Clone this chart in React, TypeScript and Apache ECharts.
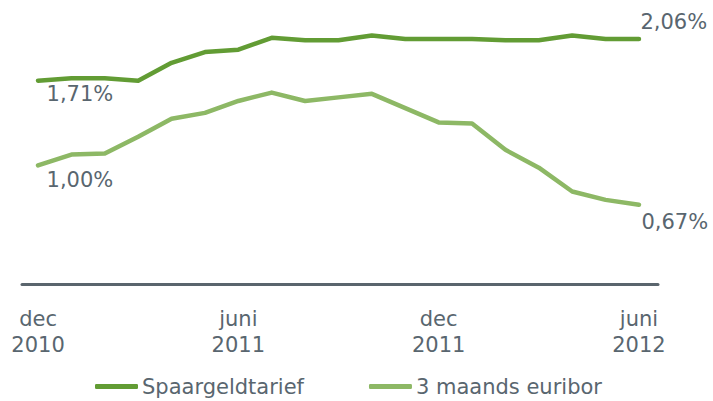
import React, { useEffect, useRef } from "react";
import * as echarts from "echarts";

const months = [
  "dec 2010", "jan 2011", "feb 2011", "mrt 2011", "apr 2011", "mei 2011", "juni 2011",
  "juli 2011", "aug 2011", "sep 2011", "okt 2011", "nov 2011", "dec 2011",
  "jan 2012", "feb 2012", "mrt 2012", "apr 2012", "mei 2012", "juni 2012",
];
const spaargeld = [1.71, 1.73, 1.73, 1.71, 1.86, 1.95, 1.97, 2.07, 2.05, 2.05, 2.09, 2.06, 2.06, 2.06, 2.05, 2.05, 2.09, 2.06, 2.06];
const euribor = [1.0, 1.09, 1.1, 1.24, 1.39, 1.44, 1.54, 1.61, 1.54, 1.57, 1.6, 1.48, 1.36, 1.35, 1.13, 0.98, 0.78, 0.71, 0.67];
const tickIndices = [0, 6, 12, 18];
const tickLabels = ["dec\n2010", "juni\n2011", "dec\n2011", "juni\n2012"];
const seriesNames = ["Spaargeldtarief", "3 maands euribor"];

const DARK = "#629c34";
const LIGHT = "#8db865";
const TEXT = "#59666f";
const FONT = "DejaVu Sans";

const fmt = (v: number) => v.toFixed(2).replace(".", ",") + "%";

function buildData(values: number[], labels: Record<number, number[]>) {
  return values.map((v, i) => {
    const pos = labels[i];
    if (!pos) return [i, v];
    return {
      value: [i, v],
      label: {
        show: true,
        position: pos,
        align: "left",
        verticalAlign: "middle",
        formatter: () => fmt(v),
        color: TEXT,
        fontFamily: FONT,
        fontSize: 21,
      },
    };
  });
}

export default function App() {
  const ref = useRef<HTMLDivElement>(null);
  useEffect(() => {
    if (!ref.current) return;
    const chart = echarts.init(ref.current, undefined, { renderer: "svg" });
    chart.setOption({
      animation: false,
      grid: { left: 22, right: 55, top: 22.3, bottom: 116.5, containLabel: false },
      legend: {
        left: 95,
        top: 376,
        padding: 0,
        itemWidth: 43,
        itemHeight: 5,
        itemGap: 65,
        icon: "roundRect",
        data: seriesNames,
        textStyle: { color: TEXT, fontFamily: FONT, fontSize: 21, padding: [0, 0, 0, -1] },
      },
      xAxis: {
        type: "value",
        min: -0.48,
        max: 18.57,
        splitLine: { show: false },
        axisTick: { show: false },
        axisLine: { show: true, onZero: true, lineStyle: { color: "#5a656d", width: 3, cap: "round" } },
        axisLabel: {
          customValues: tickIndices,
          formatter: (v: number) => tickLabels[tickIndices.indexOf(Math.round(v))] ?? "",
          color: TEXT,
          fontFamily: FONT,
          fontSize: 21,
          lineHeight: 26,
          margin: 21,
          showMinLabel: true,
          showMaxLabel: true,
        },
      },
      yAxis: {
        type: "value",
        min: 0,
        max: 2.2,
        show: false,
        splitLine: { show: false },
      },
      series: [
        {
          name: seriesNames[0],
          type: "line",
          data: buildData(spaargeld, { 0: [9, 14], 18: [2, -16] }),
          symbol: "circle",
          symbolSize: 1,
          showSymbol: true,
          itemStyle: { color: DARK },
          lineStyle: { color: DARK, width: 4.5, cap: "round", join: "round" },
          z: 3,
        },
        {
          name: seriesNames[1],
          type: "line",
          data: buildData(euribor, { 0: [9, 15], 18: [3, 18] }),
          symbol: "circle",
          symbolSize: 1,
          showSymbol: true,
          itemStyle: { color: LIGHT },
          lineStyle: { color: LIGHT, width: 4.5, cap: "round", join: "round" },
          z: 2,
        },
      ],
    });
    return () => chart.dispose();
  }, []);
  return <div ref={ref} style={{ width: 713, height: 401, position: "absolute", left: 0, top: 0 }} />;
}
